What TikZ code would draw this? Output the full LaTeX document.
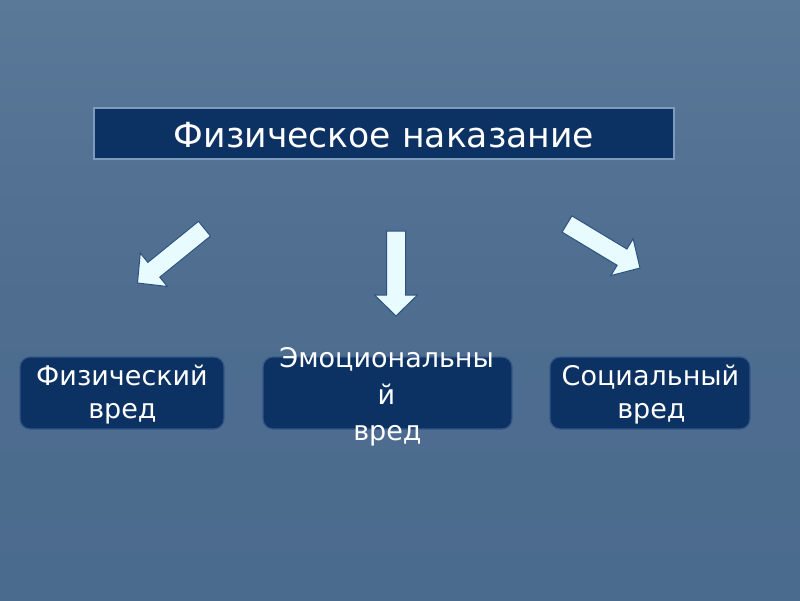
\documentclass[tikz,border=0pt]{standalone}
\usepackage{fontspec}
\setmainfont{DejaVu Sans}
\usetikzlibrary{calc}
\definecolor{bgtop}{HTML}{5A7999}
\definecolor{bgmid}{HTML}{4E6D8F}
\definecolor{bgbot}{HTML}{4B6B8E}
\definecolor{navy}{HTML}{0C3163}
\definecolor{arrowfill}{HTML}{E8FBFF}
\definecolor{arrowline}{HTML}{2C5380}
\definecolor{titleedge}{HTML}{7F9BBB}
\definecolor{boxedge}{HTML}{34578A}
\newcommand\blockarrow[2]{%
  \coordinate (#1n) at ($(#2)!21pt!(#1)$);
  \draw[barrow] ($(#1)!9.5pt!90:(#2)$) -- ($(#1n)!9.5pt!-90:(#1)$)
    -- ($(#1n)!21.5pt!-90:(#1)$) -- (#2) -- ($(#1n)!21.5pt!90:(#1)$)
    -- ($(#1n)!9.5pt!90:(#1)$) -- ($(#1)!9.5pt!-90:(#2)$) -- cycle;}
\begin{document}
\begin{tikzpicture}[x=1pt,y=-1pt,
  titlebox/.style={draw=titleedge, line width=2.5pt, fill=navy},
  harmbox/.style={draw=boxedge, line width=1.2pt, fill=navy, rounded corners=10pt},
  titletext/.style={text=white, font=\fontsize{34.6}{40}\selectfont, inner sep=0pt, anchor=base},
  linetext/.style={text=white, font=\fontsize{27}{33}\selectfont, inner sep=0pt, anchor=base},
  barrow/.style={draw=arrowline, line width=1pt, fill=arrowfill, line join=miter}]
\useasboundingbox (0,0) rectangle (800,600);
\shade[top color=bgtop, bottom color=bgmid] (0,0) rectangle (800,300);
\shade[top color=bgmid, bottom color=bgbot] (0,300) rectangle (800,600);
% title
\draw[titlebox] (94,108) rectangle (674,159);
\node[titletext] (title) at (384,147) {Физическое наказание};
% arrows
\coordinate (lt) at (204.5,228.7);
\coordinate (lh) at (137.5,283);
\coordinate (mt) at (396,231);
\coordinate (mh) at (396,316);
\coordinate (rt) at (567,224);
\coordinate (rh) at (640,268);
\blockarrow{lt}{lh}
\blockarrow{mt}{mh}
\blockarrow{rt}{rh}
% boxes
\draw[harmbox] (20,357) rectangle (224,429);
\draw[harmbox] (263,357) rectangle (512,429);
\draw[harmbox] (550,357) rectangle (750,429);
\node[linetext] (l1) at (122,385.5) {Физический};
\node[linetext] (l2) at (122.5,418.5) {вред};
\node[linetext] (m1) at (386.7,367.3) {Эмоциональны};
\node[linetext] (m2) at (386.5,404) {й};
\node[linetext] (m3) at (387.5,440) {вред};
\node[linetext] (r1) at (650.5,385.5) {Социальный};
\node[linetext] (r2) at (651.5,418.5) {вред};
\end{tikzpicture}
\end{document}
